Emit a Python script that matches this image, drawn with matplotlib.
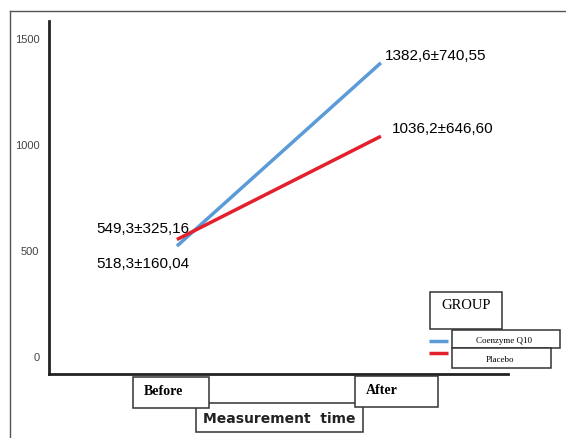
import matplotlib.pyplot as plt
from matplotlib.patches import Rectangle
from matplotlib.lines import Line2D

# data
times = ["Before", "After"]
groups = ["Coenzyme Q10", "Placebo"]
means = {"Coenzyme Q10": [518.3, 1382.6], "Placebo": [549.3, 1036.2]}
labels = {"Coenzyme Q10": ["518,3±160,04", "1382,6±740,55"],
          "Placebo": ["549,3±325,16", "1036,2±646,60"]}
colors = {"Coenzyme Q10": "#5b9bd8", "Placebo": "#e3202c"}
yticks = [0, 500, 1000, 1500]

W, H = 566, 439
fig = plt.figure(figsize=(W / 100, H / 100), dpi=100)

def fx(px):
    return px / W

def fy(py):
    return 1 - py / H

def box(x0, y0, x1, y1, z=2):
    fig.patches.append(Rectangle((fx(x0), fy(y1)), fx(x1) - fx(x0), fy(y0) - fy(y1),
                                 transform=fig.transFigure, facecolor="white",
                                 edgecolor="#333333", lw=1.1, zorder=z))

# outer frame (top and left only visible)
fig.add_artist(Line2D([fx(10), 1], [fy(12), fy(12)], transform=fig.transFigure, color="#555555", lw=1))
fig.add_artist(Line2D([fx(10), fx(10)], [fy(12), 0], transform=fig.transFigure, color="#555555", lw=1))

ax = fig.add_axes([fx(49), fy(375), fx(508) - fx(49), fy(22) - fy(375)])
ax.set_xlim(-0.627, 1.623)
ax.set_ylim(-85, 1580)
for s in ["top", "right"]:
    ax.spines[s].set_visible(False)
for s in ["left", "bottom"]:
    ax.spines[s].set_linewidth(2)
    ax.spines[s].set_color("#222222")
ax.set_xticks([])
ax.set_yticks(yticks)
ax.tick_params(axis="y", length=0, pad=7, labelsize=8, labelcolor="#444444")
for t in ax.get_yticklabels():
    t.set_family("Liberation Sans")

xs = [0, 1]
for g in groups:
    ax.plot(xs, means[g], color=colors[g], lw=2.5, solid_capstyle="butt")

# value labels
ax.annotate(labels["Coenzyme Q10"][1], (1, means["Coenzyme Q10"][1]), xytext=(3, 6),
            textcoords="offset points", fontsize=11, family="Liberation Sans", va="center")
ax.annotate(labels["Placebo"][1], (1, means["Placebo"][1]), xytext=(8, 6),
            textcoords="offset points", fontsize=11, family="Liberation Sans", va="center")
ax.annotate(labels["Placebo"][0], (0, means["Placebo"][0]), xytext=(-58, 8),
            textcoords="offset points", fontsize=11, family="Liberation Sans", va="center")
ax.annotate(labels["Coenzyme Q10"][0], (0, means["Coenzyme Q10"][0]), xytext=(-58, -12),
            textcoords="offset points", fontsize=11, family="Liberation Sans", va="center")

# x axis category boxes
box(196, 404, 363, 433, z=2)
fig.text(fx(279), fy(419), "Measurement  time", ha="center", va="center",
         fontsize=10, fontweight="bold", family="DejaVu Sans", color="#222222", zorder=5)
box(133, 378, 209, 409, z=3)
fig.text(fx(144), fy(392), times[0], ha="left", va="center", fontsize=10,
         fontweight="bold", family="Liberation Serif", zorder=5)
box(355, 377, 438, 408, z=3)
fig.text(fx(366), fy(391), times[1], ha="left", va="center", fontsize=10,
         fontweight="bold", family="Liberation Serif", zorder=5)

# legend
box(430, 293, 502, 330, z=2)
fig.text(fx(441), fy(306), "GROUP", ha="left", va="center", fontsize=10.5,
         family="Liberation Serif", zorder=5)
box(452, 331, 560, 349, z=3)
fig.text(fx(504), fy(341), groups[0], ha="center", va="center", fontsize=6.5,
         family="Liberation Serif", zorder=5)
box(452, 349, 551, 369, z=4)
fig.text(fx(500), fy(360), groups[1], ha="center", va="center", fontsize=6.5,
         family="Liberation Serif", zorder=5)
for g, py in zip(groups, [342, 354]):
    fig.add_artist(Line2D([fx(429), fx(448)], [fy(py), fy(py)], transform=fig.transFigure,
                          color=colors[g], lw=2.5, solid_capstyle="butt"))

fig.savefig("out.png", dpi=100)
